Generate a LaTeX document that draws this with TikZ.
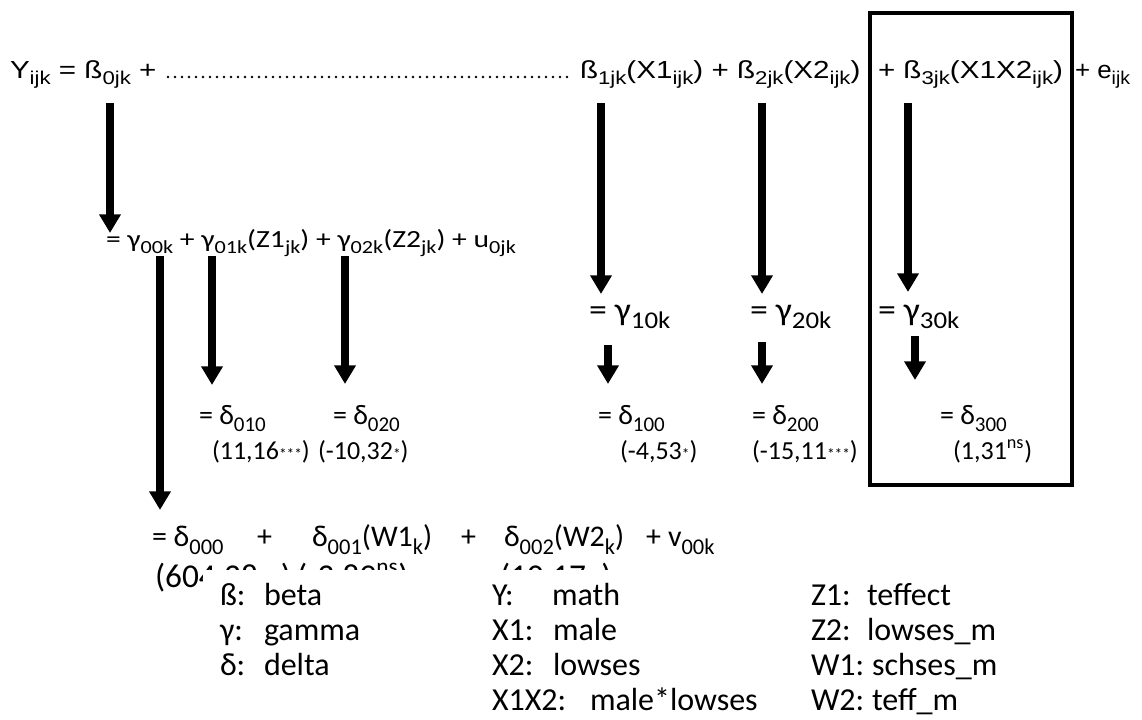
\documentclass[tikz,border=0pt]{standalone}
\usepackage{fontspec}
\setmainfont{Carlito}
\newfontfamily\arx[FakeStretch=1.2]{Liberation Sans}
\newfontfamily\ary[FakeStretch=1.05]{Liberation Sans}
\newfontfamily\cbx[FakeStretch=1.2]{Carlito}
\newfontfamily\cby[FakeStretch=1.12]{Carlito}
\usetikzlibrary{arrows.meta}
\newcommand\sbz[2][0.75]{\raisebox{-0.27em}{\scalebox{#1}{#2}}}
\newcommand\sts[1]{{\fontsize{11.5}{12}\selectfont #1}}
\begin{document}
\begin{tikzpicture}[x=0.75pt,y=-0.75pt,
  txt/.style={anchor=base west, inner sep=0pt, outer sep=0pt},
  toprow/.style={txt, font=\arx\fontsize{18.5}{20}\selectfont},
  toprowb/.style={txt, font=\ary\fontsize{18.5}{20}\selectfont},
  gamrow/.style={txt, font=\cbx\fontsize{18.5}{20}\selectfont},
  gambig/.style={txt, font=\cby\fontsize{24}{26}\selectfont},
  delrow/.style={txt, font=\fontsize{21}{24}\selectfont},
  numrow/.style={txt, font=\fontsize{19.5}{24}\selectfont},
  botrow/.style={txt, font=\fontsize{22.5}{25}\selectfont},
  partrow/.style={txt, font=\fontsize{25}{27}\selectfont},
  legend/.style={txt, font=\fontsize{24}{26}\selectfont},
  arr/.style={line width=5.5pt, -{Triangle[width=15.5pt,length=14pt]}},
  dotline/.style={line width=2pt, line cap=round, dash pattern=on 0pt off 5.25pt},
  frame/.style={draw, line width=3pt, inner sep=0pt, minimum width=151.5pt, minimum height=354pt}
]
\fill[white] (0,0) rectangle (1142,719);
\useasboundingbox (0,0) rectangle (1142,719);
% frame
\node[frame] (box) at (971,249) {};
% top row
\node[toprow] (t0) at (10,78) {Y\sbz{ijk} = ß\sbz{0jk} +};
\coordinate (d1) at (168,77); \coordinate (d2) at (573,77);
\draw[dotline] (d1) -- (d2);
\node[toprow] (t1) at (580,78) {ß\sbz{1jk}(X1\sbz{ijk}) + ß\sbz{2jk}(X2\sbz{ijk})};
\node[toprow] (t2) at (878,78) {+ ß\sbz{3jk}(X1X2\sbz{ijk})};
\node[toprowb] (t3) at (1075,78) {+ e\sbz{ijk}};
% gamma row
\node[gamrow] (g0) at (106,247) {= γ\sbz{00k} + γ\sbz{01k}(Z1\sbz{jk}) + γ\sbz{02k}(Z2\sbz{jk}) + u\sbz{0jk}};
\node[gambig] (g1) at (589,320) {= γ\sbz{10k}};
\node[gambig] (g2) at (750,320) {= γ\sbz{20k}};
\node[gambig] (g3) at (878,320) {= γ\sbz{30k}};
% delta row
\node[delrow] (e1) at (199,424) {= δ\sbz{010}};
\node[delrow] (e2) at (333,424) {= δ\sbz{020}};
\node[delrow] (e3) at (598,424) {= δ\sbz{100}};
\node[delrow] (e4) at (752,424) {= δ\sbz{200}};
\node[delrow] (e5) at (940,424) {= δ\sbz{300}};
\node[numrow] (n1) at (212,459) {(11,16\sts{***})};
\node[numrow] (n2) at (318,459) {(-10,32\sts{*})};
\node[numrow] (n3) at (620,459) {(-4,53\sts{*})};
\node[numrow] (n4) at (752,459) {(-15,11\sts{***})};
\node[numrow] (n5) at (953,459) {(1,31\textsuperscript{ns})};
% bottom row
\node[botrow] (r0) at (152,546) {= δ\sbz{000}};
\node[botrow] (r1) at (257,546) {+};
\node[botrow] (r2) at (312,546) {δ\sbz{001}(W1\sbz{k})};
\node[botrow] (r3) at (461,546) {+};
\node[botrow] (r4) at (504,546) {δ\sbz{002}(W2\sbz{k})};
\node[botrow] (r5) at (646,546) {+};
\node[botrow] (r6) at (668,546) {v\sbz{00k}};
\node[partrow] (p1) at (155,587) {(604,28\sts{***})};
\node[partrow] (p2) at (297,587) {(-3,89\textsuperscript{ns})};
\node[partrow] (p3) at (500,587) {(10,17\sts{**})};
\fill[white] (203,570) rectangle (760,600);
% arrows
\coordinate (a0s) at (110,103); \coordinate (a0e) at (110,233);
\coordinate (a1s) at (601,103); \coordinate (a1e) at (601,294);
\coordinate (a2s) at (762,103); \coordinate (a2e) at (762,294);
\coordinate (a3s) at (908,103); \coordinate (a3e) at (908,292);
\coordinate (b0s) at (160,256); \coordinate (b0e) at (160,510);
\coordinate (b1s) at (212,256); \coordinate (b1e) at (212,385);
\coordinate (b2s) at (345,256); \coordinate (b2e) at (345,384);
\coordinate (c1s) at (608,345); \coordinate (c1e) at (608,384);
\coordinate (c2s) at (762,342); \coordinate (c2e) at (762,384);
\coordinate (c3s) at (915,336); \coordinate (c3e) at (915,380);
\foreach \p in {a0,a1,a2,a3,b0,b1,b2,c1,c2,c3} \draw[arr] (\p s) -- (\p e);
% legend
\node[legend] (k1) at (220,605) {ß:};  \node[legend] (v1) at (264,605) {beta};
\node[legend] (k2) at (220,640) {γ:};  \node[legend] (v2) at (264,640) {gamma};
\node[legend] (k3) at (220,675) {δ:};  \node[legend] (v3) at (264,675) {delta};
\node[legend] (k4) at (492,605) {Y:};  \node[legend] (v4) at (552,605) {math};
\node[legend] (k5) at (492,640) {X1:}; \node[legend] (v5) at (553,640) {male};
\node[legend] (k6) at (492,675) {X2:}; \node[legend] (v6) at (553,675) {lowses};
\node[legend] (k7) at (492,710) {X1X2:}; \node[legend] (v7) at (590,710) {male*lowses};
\node[legend] (k8) at (811,605) {Z1:}; \node[legend] (v8) at (867,605) {teffect};
\node[legend] (k9) at (811,640) {Z2:}; \node[legend] (v9) at (867,640) {lowses\_m};
\node[legend] (k10) at (811,675) {W1:}; \node[legend] (v10) at (872,675) {schses\_m};
\node[legend] (k11) at (811,710) {W2:}; \node[legend] (v11) at (872,710) {teff\_m};
\end{tikzpicture}
\end{document}
